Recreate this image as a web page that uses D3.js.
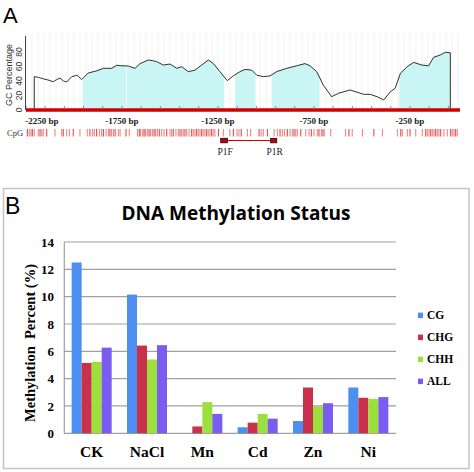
<!DOCTYPE html>
<html><head><meta charset="utf-8">
<script src="https://cdn.jsdelivr.net/npm/d3@7"></script>
<style>body{margin:0;background:#fff}</style>
</head><body><svg id="c" width="474" height="472"></svg>
<script>
// ---------- Panel A data ----------
const gcPos = [-2207,-2207,-2185,-2160,-2130,-2108,-2090,-2073,-2055,-2038,-2012,-1983,-1960,-1926,-1882,-1847,-1804,-1778,-1750,-1717,-1682,-1656,-1613,-1590,-1569,-1535,-1500,-1465,-1439,-1405,-1370,-1335,-1300,-1274,-1240,-1202,-1170,-1135,-1109,-1074,-1048,-1014,-979,-944,-892,-840,-797,-771,-736,-702,-658,-623,-562,-491,-457,-422,-387,-353,-327,-300,-265,-231,-188,-153,-127,-92,-66,-43,-40,-40];
const gcVal = [0,46,45,43,41,39,42,44,40,38.6,46,48,42,51,54,57.5,57.5,61.6,61,60.7,57.5,64,69,68,66.7,62,63.4,57.5,59.8,52.9,55,62,69,64,53,40.5,47,53,56,55,48,46,47,53,57.5,61,64,61,53,34.5,18.4,23,27.6,21.6,21.6,18.4,13.8,25,30,50.6,59.7,65.7,62,61,72.7,75.9,79.6,79,79,0];
const islandStart = [-1955,-1725,-1161,-969,-306];
const islandEnd   = [-1729,-1219,-1055,-721,-40];
const cpgSites = [-2243,-2233,-2224,-2217,-2207,-2186,-2177,-2168,-2160,-2142,-2099,-2064,-2056,-2038,-2024,-2004,-1969,-1931,-1917,-1903,-1894,-1882,-1868,-1856,-1847,-1833,-1821,-1813,-1804,-1795,-1786,-1769,-1760,-1729,-1712,-1670,-1660,-1653,-1642,-1635,-1627,-1618,-1609,-1601,-1592,-1583,-1575,-1566,-1556,-1543,-1531,-1517,-1500,-1491,-1483,-1469,-1457,-1448,-1439,-1431,-1422,-1413,-1401,-1387,-1379,-1370,-1361,-1353,-1344,-1335,-1327,-1318,-1309,-1301,-1292,-1283,-1275,-1266,-1248,-1222,-1188,-1170,-1151,-1141,-1129,-1097,-1080,-1036,-1025,-1014,-993,-958,-941,-927,-915,-903,-889,-875,-863,-854,-845,-837,-819,-793,-776,-764,-750,-733,-724,-712,-707,-698,-663,-585,-568,-551,-498,-438,-394,-316,-298,-290,-264,-250,-220,-186,-168,-160,-151,-142,-134,-125,-116,-108,-99,-90,-73,-56,-38,-30,-21,-12,-4];
const primerNames = ["P1F","P1R"];
const primerStart = [-1236,-976];
const primerEnd   = [-1201,-944];
const bpTickLabels = [-2250,-1750,-1250,-750,-250];
const gcTicks = [0,20,40,60,80];

// ---------- Panel B data ----------
const categories = ["CK","NaCl","Mn","Cd","Zn","Ni"];
const seriesNames = ["CG","CHG","CHH","ALL"];
const CG  = [12.5,10.15,0,0.44,0.9,3.35];
const CHG = [5.15,6.42,0.5,0.78,3.35,2.6];
const CHH = [5.22,5.4,2.28,1.42,1.98,2.52];
const ALL = [6.27,6.45,1.42,1.07,2.2,2.65];
const yTicks = [0,2,4,6,8,10,12,14];
const colors = ["#4d8ff0","#c9304c","#9be03c","#7a5cf0"];

const svg = d3.select("#c");
const serif = "'Liberation Serif','Times New Roman',serif";
const sans = "'Liberation Sans',Arial,sans-serif";

// ================= PANEL A =================
svg.append("text").attr("x",3).attr("y",23).attr("font-family",sans).attr("font-size",22).text("A");

const xA = d3.scaleLinear().domain([-2250,0]).range([26,458]);
const yA = d3.scaleLinear().domain([0,100]).range([110,37.5]);

const gA = svg.append("g");
gA.selectAll(".vg").data(d3.range(-2250,0.1,31.25)).join("line")
  .attr("x1",d=>xA(d)).attr("x2",d=>xA(d)).attr("y1",33).attr("y2",108)
  .attr("stroke","#f1f1f1").attr("stroke-width",1);

const gcData = gcPos.map((p,i)=>({p,v:gcVal[i]}));
const defs = svg.append("defs");
const cp = defs.append("clipPath").attr("id","isl");
islandStart.forEach((s,i)=>{
  cp.append("rect").attr("x",xA(s)).attr("width",xA(islandEnd[i])-xA(s)).attr("y",30).attr("height",82);
});
gA.append("path").datum(gcData)
  .attr("d",d3.area().x(d=>xA(d.p)).y0(yA(0)).y1(d=>yA(d.v)))
  .attr("fill","#c9f5f5").attr("clip-path","url(#isl)");
gA.append("path").datum(gcData)
  .attr("d",d3.line().x(d=>xA(d.p)).y(d=>yA(d.v)))
  .attr("fill","none").attr("stroke","#1a1a1a").attr("stroke-width",0.9);

gA.append("line").attr("x1",xA(-2250)).attr("x2",xA(0)+2).attr("y1",yA(0)).attr("y2",yA(0))
  .attr("stroke","#d10000").attr("stroke-width",3.5);
gA.selectAll(".xt").data(d3.range(-2250,1,100)).join("line")
  .attr("x1",d=>xA(d)).attr("x2",d=>xA(d)).attr("y1",yA(0)-4).attr("y2",yA(0)-1.5)
  .attr("stroke","#888").attr("stroke-width",1);
gA.append("line").attr("x1",25.5).attr("x2",25.5).attr("y1",36).attr("y2",yA(0))
  .attr("stroke","#444").attr("stroke-width",1);
gA.selectAll(".yl").data(gcTicks).join("text")
  .attr("transform",d=>`translate(22,${yA(d)}) rotate(-90)`)
  .attr("text-anchor","middle").attr("font-family",sans).attr("font-size",8.5).attr("fill","#333")
  .text(d=>d);
gA.append("text").attr("transform","translate(12,75) rotate(-90)")
  .attr("text-anchor","middle").attr("font-family",sans).attr("font-size",9).attr("fill","#333")
  .text("GC Percentage");
gA.selectAll(".xl").data(bpTickLabels).join("text")
  .attr("x",d=>Math.max(xA(d),42)).attr("y",124)
  .attr("text-anchor","middle").attr("font-family",serif).attr("font-size",9).attr("font-weight","bold").attr("fill","#222")
  .text(d=>d+" bp");
gA.append("text").attr("x",7).attr("y",135.5).attr("font-family",serif).attr("font-size",8.5).attr("fill","#333").text("CpG");
gA.selectAll(".cpg").data(cpgSites).join("line")
  .attr("x1",d=>xA(d)).attr("x2",d=>xA(d)).attr("y1",129).attr("y2",136.5)
  .attr("stroke",(d,i)=>i%3===0?"#e03a3a":"#ec7a7a").attr("stroke-width",1);
gA.append("line").attr("x1",xA(primerEnd[0])).attr("x2",xA(primerStart[1])).attr("y1",140.5).attr("y2",140.5)
  .attr("stroke","#d10000").attr("stroke-width",1.2);
primerNames.forEach((n,i)=>{
  gA.append("rect").attr("x",xA(primerStart[i])).attr("y",138.3).attr("width",xA(primerEnd[i])-xA(primerStart[i])).attr("height",4.5)
    .attr("fill","#c00000").attr("stroke","#111").attr("stroke-width",0.8);
  gA.append("text").attr("x",(xA(primerStart[i])+xA(primerEnd[i]))/2+1).attr("y",155)
    .attr("text-anchor","middle").attr("font-family",serif).attr("font-size",9.5).attr("fill","#222").text(n);
});

// ================= PANEL B =================
svg.append("rect").attr("x",3.5).attr("y",188.5).attr("width",465.5).attr("height",280)
  .attr("fill","none").attr("stroke","#c4c4c4").attr("stroke-width",1.5);
svg.append("text").attr("x",5).attr("y",213.5).attr("font-family",sans).attr("font-size",23).text("B");
svg.append("text").attr("x",236).attr("y",220).attr("text-anchor","middle")
  .attr("font-family","'Open Sans',sans-serif").attr("font-weight","bold").attr("font-size",19)
  .text("DNA Methylation Status");

const x0 = d3.scaleBand().domain(categories).range([64,396]).paddingInner(0.277).paddingOuter(0.1385);
const x1 = d3.scaleBand().domain(seriesNames).range([0,x0.bandwidth()]);
const yB = d3.scaleLinear().domain([0,14]).range([433.3,242]);

const gB = svg.append("g");
gB.selectAll(".gl").data(yTicks).join("line")
  .attr("x1",64).attr("x2",396).attr("y1",d=>yB(d)).attr("y2",d=>yB(d))
  .attr("stroke","#a0a0a0").attr("stroke-width",1.2);
gB.append("line").attr("x1",64.3).attr("x2",64.3).attr("y1",yB(14)).attr("y2",yB(0))
  .attr("stroke","#a0a0a0").attr("stroke-width",1.2);
gB.selectAll(".tl").data(yTicks).join("text")
  .attr("x",54).attr("y",d=>yB(d)).attr("dy","0.35em").attr("text-anchor","end")
  .attr("font-family",serif).attr("font-weight","bold").attr("font-size",13).text(d=>d);

const vals = [CG,CHG,CHH,ALL];
categories.forEach((c,ci)=>{
  seriesNames.forEach((s,si)=>{
    const v = vals[si][ci];
    if (v<=0) return;
    gB.append("rect").attr("x",x0(c)+x1(s)).attr("width",x1.bandwidth())
      .attr("y",yB(v)).attr("height",yB(0)-yB(v)).attr("fill",colors[si]);
  });
});
gB.selectAll(".cl").data(categories).join("text")
  .attr("x",d=>x0(d)+x0.bandwidth()/2).attr("y",456.5).attr("text-anchor","middle")
  .attr("font-family",serif).attr("font-weight","bold").attr("font-size",15.5).text(d=>d);

gB.append("text").attr("transform","translate(35,343) rotate(-90)").attr("text-anchor","middle")
  .attr("font-family",serif).attr("font-weight","bold").attr("font-size",14.5)
  .style("white-space","pre").text("Methylation  Percent (%)");

seriesNames.forEach((s,i)=>{
  const cy = 315.3 + i*22;
  gB.append("rect").attr("x",418).attr("y",cy-2.7).attr("width",5).attr("height",5.5).attr("fill",colors[i]);
  gB.append("text").attr("x",427).attr("y",cy).attr("dy","0.35em")
    .attr("font-family",serif).attr("font-weight","bold").attr("font-size",11.5).text(s);
});
</script></body></html>
